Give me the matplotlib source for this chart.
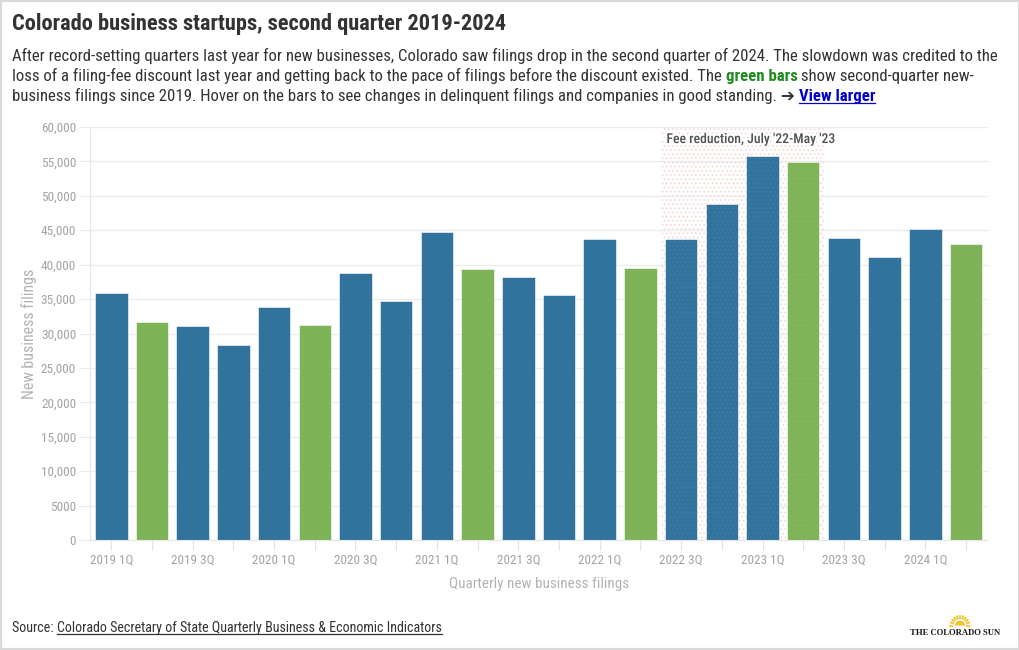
import numpy as np
import matplotlib
matplotlib.use("Agg")
import matplotlib.pyplot as plt
from matplotlib.patches import Rectangle, Wedge
from matplotlib.lines import Line2D
from matplotlib.ticker import FuncFormatter, MultipleLocator
import matplotlib.patheffects as pe

# Data: quarterly new business filings, Colorado
quarters = ["2019 1Q", "2019 2Q", "2019 3Q", "2019 4Q",
            "2020 1Q", "2020 2Q", "2020 3Q", "2020 4Q",
            "2021 1Q", "2021 2Q", "2021 3Q", "2021 4Q",
            "2022 1Q", "2022 2Q", "2022 3Q", "2022 4Q",
            "2023 1Q", "2023 2Q", "2023 3Q", "2023 4Q",
            "2024 1Q", "2024 2Q"]
filings = [35900, 31700, 31100, 28400,
           33850, 31200, 38750, 34700,
           44750, 39350, 38200, 35650,
           43750, 39500, 43700, 48800,
           55850, 54950, 43900, 41050,
           45200, 43050]
fee_band = (13.5, 17.5)   # July '22 - May '23
fee_label = "Fee reduction, July '22-May '23"

title = "Colorado business startups, second quarter 2019-2024"
sub1 = ("After record-setting quarters last year for new businesses, Colorado saw filings drop "
        "in the second quarter of 2024. The slowdown was credited to the")
sub2 = ("loss of a filing-fee discount last year and getting back to the pace of filings "
        "before the discount existed. The ")
sub2b = "green bars"
sub2c = " show second-quarter new-"
sub3 = ("business filings since 2019. Hover on the bars to see changes in delinquent filings "
        "and companies in good standing. \u2794 ")
sub3b = "View larger"
source_a = "Source: "
source_b = "Colorado Secretary of State Quarterly Business & Economic Indicators"

BLUE = "#32739e"
GREEN = "#7eb457"
W, H = 1020, 650

plt.rcParams["font.family"] = ["Roboto Condensed", "Liberation Sans Narrow", "Roboto", "DejaVu Sans"]
plt.rcParams["hatch.linewidth"] = 0.7

fig = plt.figure(figsize=(W / 100, H / 100), dpi=100)
renderer = fig.canvas.get_renderer()


def fx(x):
    return x / W


def fy(y):
    return 1 - y / H


def fit_size(text, width, base=10, **kw):
    t = fig.text(0, 0, text, fontsize=base, **kw)
    w = t.get_window_extent(renderer).width
    t.remove()
    return base * width / w


def runs(x, y, parts, size):
    # draw text pieces one after another on a baseline
    for text, kw in parts:
        ul = kw.pop("underline", False)
        t = fig.text(fx(x), fy(y), text, fontsize=size, va="baseline", **kw)
        bb = t.get_window_extent(renderer)
        if ul:
            fig.add_artist(Line2D([bb.x0 / W, bb.x1 / W], [fy(y + 2)] * 2,
                                  color=kw.get("color", "#333"), lw=0.9))
        x += bb.width


# border
fig.add_artist(Rectangle((0, 0), 1, 1, transform=fig.transFigure, fill=False,
                         ec="#d9d9d9", lw=3))

# title and subtitle
ts = fit_size(title, 495, weight="bold")
fig.text(fx(12), fy(30), title, fontsize=ts, weight="bold", color="#333333", va="baseline")

ss = fit_size(sub1, 984)
body = dict(color="#333333")
runs(12, 61, [(sub1, dict(body))], ss)
runs(12, 81, [(sub2, dict(body)),
              (sub2b, dict(color="#1f8a1f", weight="bold")),
              (sub2c, dict(body))], ss)
runs(12, 101, [(sub3, dict(body)),
               (sub3b, dict(color="#0000cc", weight="bold", underline=True))], ss)

# chart
ax = fig.add_axes([fx(90), fy(540), (988 - 90) / W, (540 - 127) / H])
x = list(range(len(quarters)))
colors = [GREEN if q.endswith("2Q") else BLUE for q in quarters]
ax.bar(x, filings, width=0.8, color=colors, edgecolor="white", linewidth=0.4, zorder=2)

# dotted band for the fee reduction period
ax.add_patch(Rectangle((fee_band[0], 0), fee_band[1] - fee_band[0], 60000,
                       facecolor="none", edgecolor=(0.93, 0.62, 0.62, 0.4), hatch="....",
                       lw=0, zorder=1))
ax.add_patch(Rectangle((fee_band[0], 0), fee_band[1] - fee_band[0], 60000,
                       facecolor="none", edgecolor=(1, 1, 1, 0.05), hatch="....",
                       lw=0, zorder=3))
ax.text(fee_band[0] + 0.14, 58250, fee_label,
        fontsize=fit_size(fee_label, 168, weight="medium"), weight="medium",
        color="#555555", va="center", ha="left", zorder=4,
        path_effects=[pe.withStroke(linewidth=3, foreground="white")])

ax.set_xlim(-0.523, 21.54)
ax.set_ylim(0, 60000)
ax.yaxis.set_major_locator(MultipleLocator(5000))
ax.yaxis.set_major_formatter(FuncFormatter(
    lambda v, p: "0" if v == 0 else ("5000" if v == 5000 else f"{int(v):,}")))
ax.grid(axis="y", color="#ececec", lw=1, zorder=0)
ax.set_xticks(x)
ax.set_xticklabels([q if q.endswith(("1Q", "3Q")) else "" for q in quarters])

ax.tick_params(axis="y", length=8, color="#ececec", labelcolor="#a3a3a3",
               labelsize=9.5, pad=2)
ax.tick_params(axis="x", length=7, color="#e3e3e3", labelcolor="#a3a3a3",
               labelsize=9.5, pad=3)
for s in ["top", "right"]:
    ax.spines[s].set_visible(False)
ax.spines["left"].set_color("#e6e6e6")
ax.spines["bottom"].set_color("#e6e6e6")

ax.set_xlabel("Quarterly new business filings", fontsize=11, color="#b3b3b3", labelpad=7)
ax.set_ylabel("New business filings", fontsize=11.5, color="#b3b3b3", labelpad=3)

# source and logo
srs = fit_size(source_a + source_b, 429)
runs(12, 632, [(source_a, dict(body)),
               (source_b, dict(color="#333333", underline=True))], srs)

logo = "THE COLORADO SUN"
lsz = fit_size(logo, 90, family="Liberation Serif", weight="bold")
fig.text(fx(955), fy(635), logo, fontsize=lsz, family="Liberation Serif", weight="bold",
         color="#1a1a1a", ha="center", va="baseline")

# sun mark above the logo
sun_ax = fig.add_axes([fx(946), fy(627), 28 / W, 16 / H])
sun_ax.set_xlim(-14, 14)
sun_ax.set_ylim(0, 16)
sun_ax.set_aspect("equal")
sun_ax.axis("off")
sun_ax.add_patch(Wedge((0, 1.5), 5, 0, 180, color="#f6c22c", lw=0))
for a in np.linspace(0, np.pi, 11):
    sun_ax.plot([6.5 * np.cos(a), 10.5 * np.cos(a)], [1.5 + 6.5 * np.sin(a), 1.5 + 10.5 * np.sin(a)],
                color="#f6c22c", lw=1.3, solid_capstyle="butt")

fig.savefig("out.png", dpi=100)
